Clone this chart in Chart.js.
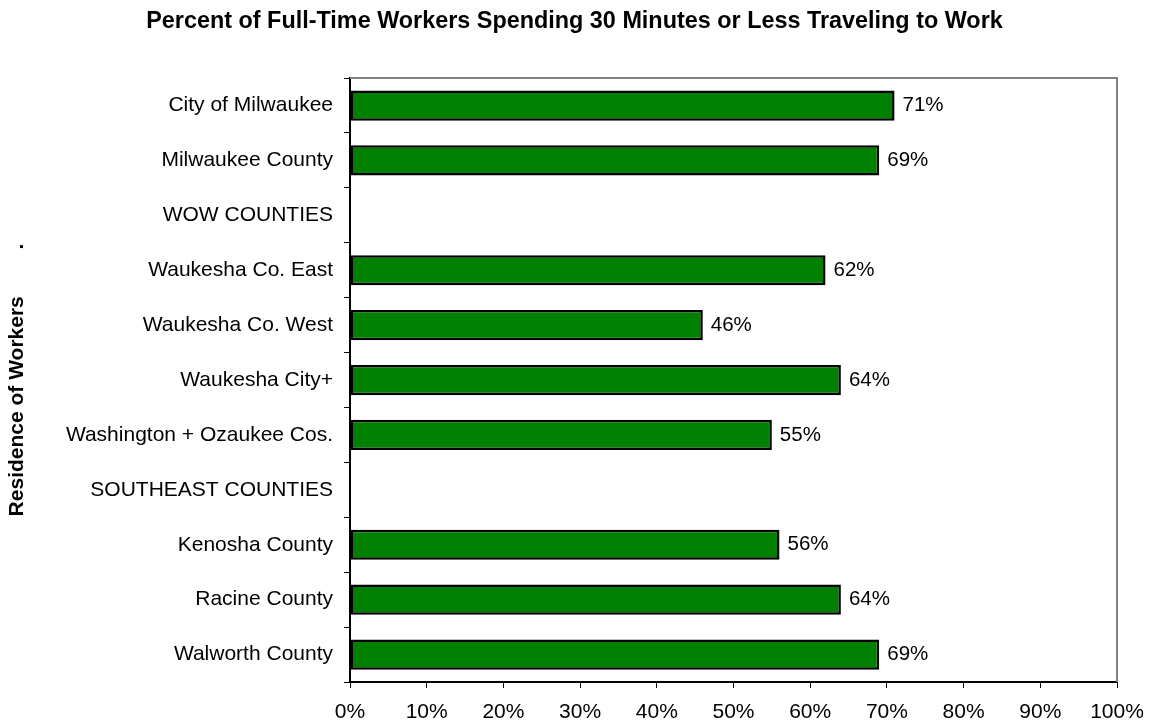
<!DOCTYPE html>
<html>
<head>
<meta charset="utf-8">
<script src="https://cdn.jsdelivr.net/npm/chart.js@4"></script>
<style>
    html, body { margin: 0; padding: 0; background: #ffffff; }
    #wrap { width: 1149px; height: 725px; }
</style>
</head>
<body>
<div id="wrap"><canvas id="commuteChart" width="1149" height="725"></canvas></div>
<script>
const residenceLabels = [
    "City of Milwaukee",
    "Milwaukee County",
    "WOW COUNTIES",
    "Waukesha Co. East",
    "Waukesha Co. West",
    "Waukesha City+",
    "Washington + Ozaukee Cos.",
    "SOUTHEAST COUNTIES",
    "Kenosha County",
    "Racine County",
    "Walworth County",
];
const shortCommutePct = [71, 69, null, 62, 46, 64, 55, null, 56, 64, 69];
const xTickValues = [0, 10, 20, 30, 40, 50, 60, 70, 80, 90, 100];

const fontFamily = "Arial, 'Liberation Sans', sans-serif";

// gray frame on top and right of the plot area
const frameLines = {
    id: "frameLines",
    afterDatasetsDraw(chart) {
        const { ctx, chartArea } = chart;
        ctx.save();
        ctx.strokeStyle = "#808080";
        ctx.lineWidth = 2;
        ctx.beginPath();
        ctx.moveTo(chartArea.left, chartArea.top);
        ctx.lineTo(chartArea.right, chartArea.top);
        ctx.lineTo(chartArea.right, chartArea.bottom);
        ctx.stroke();
        ctx.restore();
    },
};

// value labels at the end of each bar
const barValueLabels = {
    id: "barValueLabels",
    afterDatasetsDraw(chart) {
        const { ctx } = chart;
        const meta = chart.getDatasetMeta(0);
        ctx.save();
        ctx.font = "20.5px " + fontFamily;
        ctx.fillStyle = "#000000";
        ctx.textAlign = "left";
        ctx.textBaseline = "middle";
        meta.data.forEach((bar, i) => {
            const v = shortCommutePct[i];
            if (v === null) return;
            ctx.fillText(v + "%", bar.x + 8, bar.y);
        });
        ctx.restore();
    },
};

new Chart(document.getElementById("commuteChart"), {
    type: "bar",
    data: {
        labels: residenceLabels,
        datasets: [
            {
                data: shortCommutePct,
                backgroundColor: "#008000",
                borderColor: "#000000",
                borderWidth: 2.5,
                borderSkipped: false,
                barPercentage: 0.55,
                categoryPercentage: 1,
            },
        ],
    },
    options: {
        indexAxis: "y",
        responsive: false,
        animation: false,
        // equal side padding keeps the title centred on the page
        layout: { padding: { left: 16, right: 16, top: 0, bottom: 0 } },
        plugins: {
            legend: { display: false },
            tooltip: { enabled: false },
            title: {
                display: true,
                text: "Percent of Full-Time Workers Spending 30 Minutes or Less Traveling to Work",
                color: "#000000",
                font: { family: fontFamily, size: 23.4, weight: "bold" },
                padding: { top: 8, bottom: 42 },
            },
        },
        scales: {
            x: {
                min: 0,
                max: 100,
                afterBuildTicks(scale) {
                    scale.ticks = xTickValues.map((v) => ({ value: v }));
                },
                afterFit(scale) {
                    scale.height = 43;
                    scale.paddingLeft = 0;
                    scale.paddingRight = 32;
                },
                grid: {
                    drawOnChartArea: false,
                    drawTicks: true,
                    tickLength: 6,
                    color: "#000000",
                },
                border: { color: "#000000", width: 2 },
                ticks: {
                    color: "#000000",
                    padding: 12,
                    maxRotation: 0,
                    font: { family: fontFamily, size: 21 },
                    callback: (v) => v + "%",
                },
            },
            y: {
                afterFit(scale) {
                    scale.width = 334;
                },
                grid: {
                    offset: true,
                    drawOnChartArea: false,
                    drawTicks: true,
                    tickLength: 6,
                    color: "#000000",
                },
                border: { color: "#000000", width: 2 },
                ticks: {
                    color: "#000000",
                    padding: 11,
                    autoSkip: false,
                    font: { family: fontFamily, size: 21 },
                },
                title: {
                    display: true,
                    text: "Residence of Workers        .",
                    color: "#000000",
                    font: { family: fontFamily, size: 21, weight: "bold" },
                    padding: { top: -11, bottom: 0 },
                },
            },
        },
    },
    plugins: [frameLines, barValueLabels],
});
</script>
</body>
</html>
